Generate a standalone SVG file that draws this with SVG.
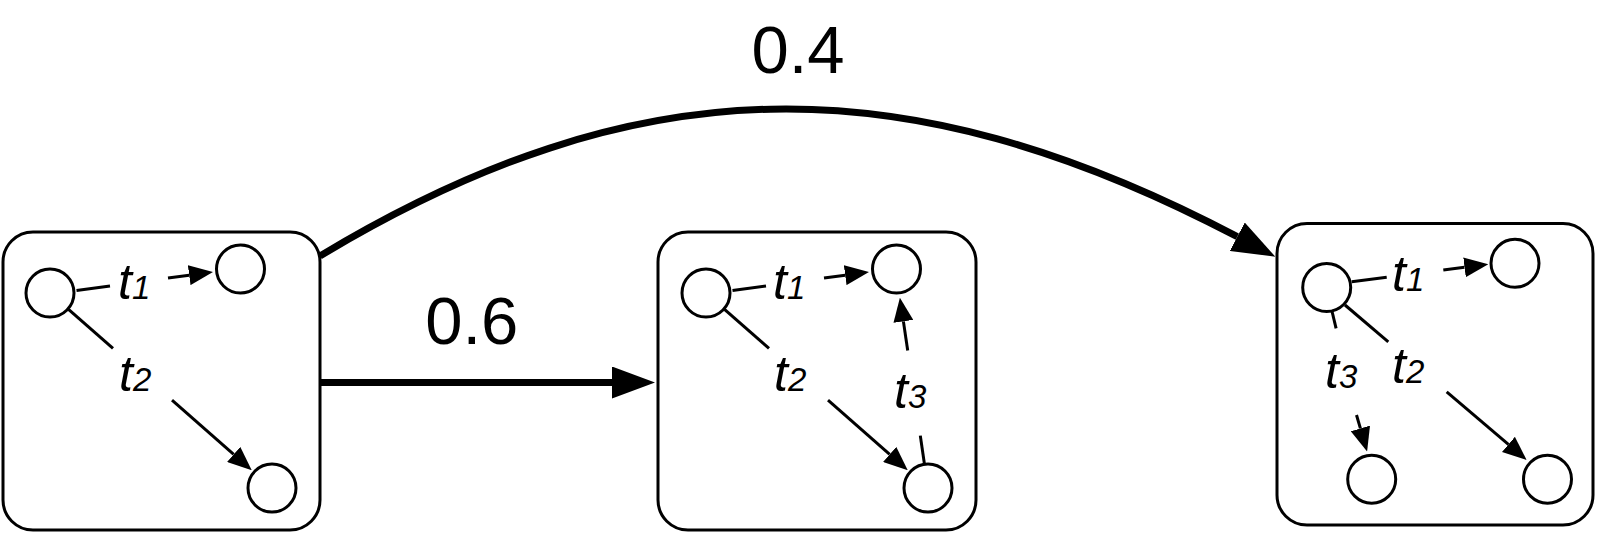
<svg xmlns="http://www.w3.org/2000/svg" width="1597" height="535" viewBox="0 0 1597 535">
<style>
.box{fill:#fff;stroke:#000;stroke-width:3}
.st{fill:#fff;stroke:#000;stroke-width:3}
.e{fill:none;stroke:#000;stroke-width:3}
.big{fill:none;stroke:#000;stroke-width:7}
.lb{font-family:"Liberation Sans",Arial,sans-serif;font-style:italic;font-size:50px;fill:#000}
.sub{font-size:33px}
.num{font-family:"Liberation Sans",Arial,sans-serif;font-size:67px;fill:#000;text-anchor:middle}
</style>
<defs>
<marker id="sa" markerUnits="userSpaceOnUse" markerWidth="24" markerHeight="20" viewBox="0 0 24 20" refX="0" refY="10" orient="auto"><path d="M0,0 L24,10 L0,20 z" fill="#000"/></marker>
<marker id="ba" markerUnits="userSpaceOnUse" markerWidth="43" markerHeight="32" viewBox="0 0 43 32" refX="0" refY="16" orient="auto"><path d="M0,0 L43,16 L0,32 z" fill="#000"/></marker>
</defs>
<g id="state1">
<rect class="box" x="3" y="232" width="317" height="298" rx="30" ry="30"/>
<circle class="st" cx="50" cy="293" r="24"/>
<circle class="st" cx="240.5" cy="269" r="24"/>
<circle class="st" cx="272" cy="488" r="24"/>
<path class="e" d="M76.5,290.5 L110,286"/>
<path class="e" d="M168,278.1 L189.2,275.2" marker-end="url(#sa)"/>
<path class="e" d="M68.5,309.3 L113,348.4"/>
<path class="e" d="M172,400.2 L233.7,454.4" marker-end="url(#sa)"/>
<text class="lb" x="118" y="299">t<tspan class="sub">1</tspan></text>
<text class="lb" x="119" y="391">t<tspan class="sub">2</tspan></text>
</g>
<g id="state2">
<rect class="box" x="658" y="232" width="318" height="298" rx="30" ry="30"/>
<circle class="st" cx="706" cy="293" r="24"/>
<circle class="st" cx="896.5" cy="269" r="24"/>
<circle class="st" cx="928" cy="488" r="24"/>
<path class="e" d="M732.5,290.5 L766,286"/>
<path class="e" d="M824,278.1 L845.2,275.2" marker-end="url(#sa)"/>
<path class="e" d="M724.5,309.3 L769,348.4"/>
<path class="e" d="M828,400.2 L889.7,454.4" marker-end="url(#sa)"/>
<path class="e" d="M924.4,463.8 L920.3,435.6"/>
<path class="e" d="M907.7,350.5 L903.4,321.4" marker-end="url(#sa)"/>
<text class="lb" x="773" y="299">t<tspan class="sub">1</tspan></text>
<text class="lb" x="774" y="391">t<tspan class="sub">2</tspan></text>
<text class="lb" x="894" y="408">t<tspan class="sub">3</tspan></text>
</g>
<g id="state3">
<rect class="box" x="1277" y="223.5" width="316" height="301.5" rx="30" ry="30"/>
<circle class="st" cx="1326.7" cy="287.5" r="24"/>
<circle class="st" cx="1515" cy="263.3" r="24"/>
<circle class="st" cx="1547.5" cy="479.2" r="24"/>
<circle class="st" cx="1371.7" cy="479.2" r="24"/>
<path class="e" d="M1351.7,281.7 L1386.7,277.2"/>
<path class="e" d="M1443.3,270 L1464.5,267.3" marker-end="url(#sa)"/>
<path class="e" d="M1345,305 L1388.3,341.9"/>
<path class="e" d="M1446.7,391.8 L1508.4,444.4" marker-end="url(#sa)"/>
<path class="e" d="M1331.7,310 L1336.1,328.3"/>
<path class="e" d="M1356.5,415 L1360.4,428.4" marker-end="url(#sa)"/>
<text class="lb" x="1392" y="291">t<tspan class="sub">1</tspan></text>
<text class="lb" x="1392" y="383">t<tspan class="sub">2</tspan></text>
<text class="lb" x="1325" y="388">t<tspan class="sub">3</tspan></text>
</g>
<g id="connectors">
<path class="big" d="M320,382.5 L612,382.5" marker-end="url(#ba)"/>
<path class="big" d="M320,256 C634.9,66.7 901.3,60.2 1237.3,236.7" marker-end="url(#ba)"/>
<text class="num" x="471.7" y="344">0.6</text>
<text class="num" x="798" y="73">0.4</text>
</g>
</svg>
